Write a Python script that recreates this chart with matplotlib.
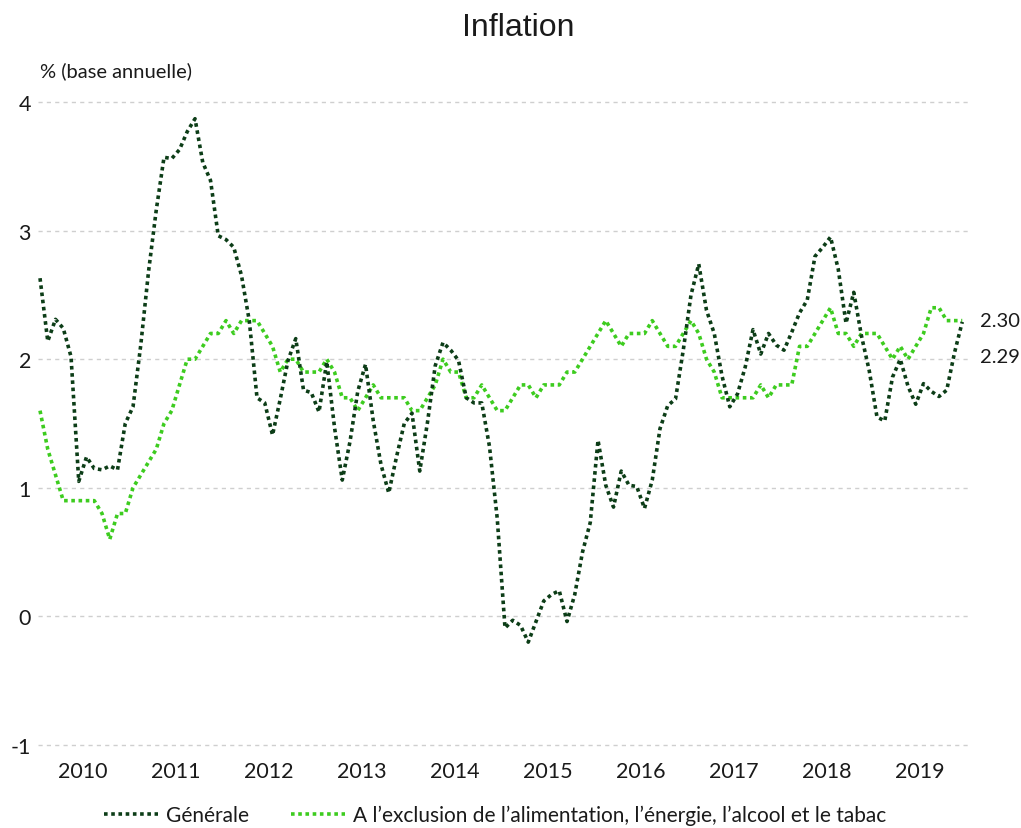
import matplotlib
matplotlib.use("Agg")
import matplotlib.pyplot as plt
import numpy as np

# ── Données : inflation mensuelle en glissement annuel (%), janv. 2010 -> déc. 2019
years = list(range(2010, 2020))
generale = [
    2.63, 2.14, 2.31, 2.24, 2.02, 1.05, 1.24, 1.15, 1.14, 1.17, 1.14, 1.50,   # 2010
    1.63, 2.11, 2.68, 3.16, 3.57, 3.56, 3.63, 3.77, 3.87, 3.53, 3.39, 2.96,   # 2011
    2.93, 2.87, 2.65, 2.30, 1.70, 1.66, 1.41, 1.69, 1.99, 2.16, 1.76, 1.74,   # 2012
    1.59, 1.98, 1.47, 1.06, 1.36, 1.75, 1.96, 1.52, 1.18, 0.96, 1.24, 1.50,   # 2013
    1.58, 1.13, 1.51, 1.95, 2.13, 2.07, 1.99, 1.70, 1.66, 1.66, 1.32, 0.76,   # 2014
    -0.09, -0.03, -0.07, -0.20, -0.04, 0.12, 0.17, 0.20, -0.04, 0.17, 0.50, 0.73,  # 2015
    1.37, 1.02, 0.85, 1.13, 1.02, 1.01, 0.84, 1.06, 1.46, 1.64, 1.69, 2.07,   # 2016
    2.50, 2.74, 2.38, 2.20, 1.87, 1.63, 1.73, 1.94, 2.23, 2.04, 2.20, 2.11,   # 2017
    2.07, 2.21, 2.36, 2.46, 2.80, 2.87, 2.95, 2.70, 2.28, 2.52, 2.18, 1.91,   # 2018
    1.55, 1.52, 1.86, 2.00, 1.79, 1.65, 1.81, 1.75, 1.71, 1.76, 2.05, 2.29,   # 2019
]
sous_jacente = [
    1.6, 1.3, 1.1, 0.9, 0.9, 0.9, 0.9, 0.9, 0.8, 0.6, 0.8, 0.8,   # 2010
    1.0, 1.1, 1.2, 1.3, 1.5, 1.6, 1.8, 2.0, 2.0, 2.1, 2.2, 2.2,   # 2011
    2.3, 2.2, 2.3, 2.3, 2.3, 2.2, 2.1, 1.9, 2.0, 2.0, 1.9, 1.9,   # 2012
    1.9, 2.0, 1.9, 1.7, 1.7, 1.6, 1.7, 1.8, 1.7, 1.7, 1.7, 1.7,   # 2013
    1.6, 1.6, 1.7, 1.8, 2.0, 1.9, 1.9, 1.7, 1.7, 1.8, 1.7, 1.6,   # 2014
    1.6, 1.7, 1.8, 1.8, 1.7, 1.8, 1.8, 1.8, 1.9, 1.9, 2.0, 2.1,   # 2015
    2.2, 2.3, 2.2, 2.1, 2.2, 2.2, 2.2, 2.3, 2.2, 2.1, 2.1, 2.2,   # 2016
    2.3, 2.2, 2.0, 1.9, 1.7, 1.7, 1.7, 1.7, 1.7, 1.8, 1.7, 1.8,   # 2017
    1.8, 1.8, 2.1, 2.1, 2.2, 2.3, 2.4, 2.2, 2.2, 2.1, 2.2, 2.2,   # 2018
    2.2, 2.1, 2.0, 2.1, 2.0, 2.1, 2.2, 2.4, 2.4, 2.3, 2.3, 2.3,   # 2019
]
label_generale = "Générale"
label_sous_jacente = "A l\u2019exclusion de l\u2019alimentation, l\u2019énergie, l\u2019alcool et le tabac"
end_labels = ["2.30", "2.29"]   # valeurs affichées en bout de courbe

DARK = "#0c3d17"
LIGHT = "#3dcc1f"
GRID = "#cfcfcf"
TXT = "#1a1a1a"
BODY = ["Lato", "DejaVu Sans"]
TITLE = ["Liberation Sans", "DejaVu Sans"]

W, H = 1021, 829
fig = plt.figure(figsize=(W / 100, H / 100), dpi=100)
fig.patch.set_facecolor("white")

# axes placées en pixels : x 38..970, y(4)=103, y(-1)=746
y0, y1 = -1.02, 4.02
ppu = (746 - 103) / 5.0
top_px = 103 - (y1 - 4) * ppu
bot_px = 746 + (-1 - y0) * ppu
ax = fig.add_axes([38 / W, 1 - bot_px / H, (970 - 38) / W, (bot_px - top_px) / H])

t = np.arange(len(generale))
ax.plot(t, generale, color=DARK, lw=2.6, linestyle=(0, (1, 1)),
        dash_capstyle="butt", label=label_generale, zorder=3)
ax.plot(t, sous_jacente, color=LIGHT, lw=2.6, linestyle=(0, (1, 1)),
        dash_capstyle="butt", label=label_sous_jacente, zorder=2)

ax.set_xlim(-0.26, 120.0)
ax.set_ylim(y0, y1)

# ── Axes / grille ────────────────────────────────────────────────────────
ax.set_yticks([-1, 0, 1, 2, 3, 4])
ax.set_yticklabels(["-1", "0", "1", "2", "3", "4"], family=BODY, fontsize=15.5, color=TXT)
ax.set_xticks([i * 12 + 5.5 for i in range(len(years))])
ax.set_xticklabels([str(y) for y in years], family=BODY, fontsize=15.5, color=TXT)
ax.tick_params(axis="both", length=0)
ax.tick_params(axis="y", pad=5)
ax.tick_params(axis="x", pad=10)
ax.grid(axis="y", color=GRID, lw=1.0, linestyle=(0, (3, 3)))
ax.set_axisbelow(True)
for s in ax.spines.values():
    s.set_visible(False)

# ── Étiquettes de fin de série ───────────────────────────────────────────
ax.annotate(end_labels[0], (t[-1], sous_jacente[-1]), xytext=(13, 0),
            textcoords="offset points", ha="left", va="center",
            family=BODY, fontsize=14.5, color=TXT, annotation_clip=False)
ax.annotate(end_labels[1], (t[-1], generale[-1]), xytext=(13, -25),
            textcoords="offset points", ha="left", va="center",
            family=BODY, fontsize=14.5, color=TXT, annotation_clip=False)

# ── Titres ───────────────────────────────────────────────────────────────
fig.text(518 / W, 1 - 28 / H, "Inflation", ha="center", va="center",
         family=TITLE, fontsize=23, color=TXT)
fig.text(40 / W, 1 - 71 / H, "% (base annuelle)", ha="left", va="center",
         family=BODY, fontsize=14.5, color=TXT)

# ── Légende ──────────────────────────────────────────────────────────────
leg = fig.legend(loc="center", bbox_to_anchor=(495 / W, 1 - 816 / H), ncol=2,
                 frameon=False, handlelength=2.6, handletextpad=0.4,
                 columnspacing=2.0, borderpad=0, prop={"family": BODY, "size": 15})
for txt in leg.get_texts():
    txt.set_color(TXT)

fig.savefig("out.png", dpi=100, facecolor="white")
